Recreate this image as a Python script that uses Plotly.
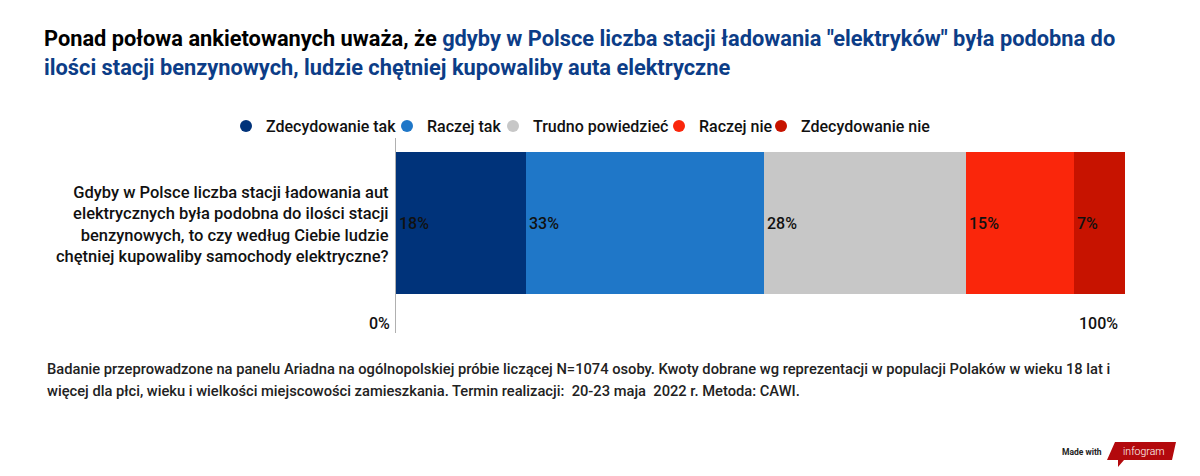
import plotly.graph_objects as go

categories = ["Zdecydowanie tak", "Raczej tak", "Trudno powiedzieć", "Raczej nie", "Zdecydowanie nie"]
values = [18, 33, 28, 15, 7]
colors = ["#00337a", "#1f77c8", "#c7c7c7", "#fa260b", "#c71300"]
question = ("Gdyby w Polsce liczba stacji ładowania aut<br>elektrycznych była podobna do ilości stacji<br>"
            "benzynowych, to czy według Ciebie ludzie<br>chętniej kupowaliby samochody elektryczne?")
tick_vals = [0, 100]
tick_labels = ["0%", "100%"]

# page geometry (browser body has an 8px margin)
PAGE_W, PAGE_H, OFF = 1200, 476, 8
L, R, T, B = 396, 1125, 138, 333
FONT = "Roboto"


def px_x(p):
    return (p - L) / (R - L)


def px_y(p):
    return (B - p) / (B - T)


# legend entry text start positions (page px)
legend_text_x = [263, 424, 530, 696, 798]

fig = go.Figure()
for i, (cat, v, c) in enumerate(zip(categories, values, colors)):
    fig.add_trace(go.Bar(
        x=[v], y=[0], orientation="h", name=cat,
        marker=dict(color=c, line=dict(width=0)),
        text=[f"{v}%"], textposition="inside", insidetextanchor="start",
        textfont=dict(family=FONT, size=16, color="#111", weight=500),
        constraintext="none", width=1, showlegend=False, hoverinfo="skip",
    ))
    fig.add_trace(go.Scatter(
        x=[None], y=[None], mode="markers", name=cat,
        marker=dict(color=c, size=12, symbol="circle"), showlegend=True,
        legend="legend" if i == 0 else f"legend{i + 1}",
    ))

px_per_unit = 142.0
top_units = (152 - T) / px_per_unit + 0.5
total_units = (B - T) / px_per_unit

layout = dict(
    width=PAGE_W - OFF, height=PAGE_H - OFF,
    margin=dict(l=L - OFF, r=PAGE_W - R, t=T - OFF, b=PAGE_H - B, pad=0),
    barmode="stack", bargap=0,
    plot_bgcolor="white", paper_bgcolor="white",
    font=dict(family=FONT, color="#111"),
    xaxis=dict(range=[0, sum(values)], showgrid=False, zeroline=False, showticklabels=False,
               ticks="", showline=False, fixedrange=True),
    yaxis=dict(range=[top_units - total_units, top_units], showgrid=False, zeroline=False,
               showticklabels=False, ticks="", showline=True, linecolor="#b0b0b0", linewidth=1,
               fixedrange=True),
)
for i, tx in enumerate(legend_text_x):
    key = "legend" if i == 0 else f"legend{i + 1}"
    layout[key] = dict(orientation="h", x=px_x(tx - 37), xanchor="left", y=px_y(126), yanchor="middle",
                       font=dict(family=FONT, size=16, color="#111", weight=500),
                       itemwidth=30, bgcolor="rgba(0,0,0,0)", borderwidth=0)
fig.update_layout(**layout)

# x tick labels
for tv, tl in zip(tick_vals, tick_labels):
    fig.add_annotation(x=tv, xref="x", y=px_y(323), yref="paper",
                       text=tl, showarrow=False, xanchor="right", yanchor="middle",
                       xshift=-4 if tv == 0 else 2,
                       font=dict(family=FONT, size=16, color="#111", weight=500))

# question label
fig.add_annotation(x=px_x(391), xref="paper", y=px_y(224), yref="paper",
                   text=question, showarrow=False, xanchor="right", yanchor="middle", align="right",
                   font=dict(family=FONT, size=16.5, color="#111", weight=500))

# title
blue = "#0c3d87"
fig.add_annotation(x=px_x(42), xref="paper", y=px_y(38), yref="paper",
                   text=("Ponad połowa ankietowanych uważa, że "
                         f"<span style='color:{blue}'>gdyby w Polsce liczba stacji ładowania \"elektryków\" była podobna do</span>"),
                   showarrow=False, xanchor="left", yanchor="middle", align="left",
                   font=dict(family=FONT, size=21.8, color="#000", weight=700))
fig.add_annotation(x=px_x(42), xref="paper", y=px_y(68), yref="paper",
                   text="ilości stacji benzynowych, ludzie chętniej kupowaliby auta elektryczne",
                   showarrow=False, xanchor="left", yanchor="middle", align="left",
                   font=dict(family=FONT, size=21.8, color=blue, weight=700))

# footnote
foot1 = ("Badanie przeprowadzone na panelu Ariadna na ogólnopolskiej próbie liczącej N=1074 osoby. "
         "Kwoty dobrane wg reprezentacji w populacji Polaków w wieku 18 lat i")
foot2 = ("więcej dla płci, wieku i wielkości miejscowości zamieszkania. Termin realizacji:  20-23 maja  2022 r. Metoda: CAWI.")
for txt, yy in [(foot1, 369), (foot2, 391)]:
    fig.add_annotation(x=px_x(45), xref="paper", y=px_y(yy), yref="paper",
                       text=txt, showarrow=False, xanchor="left", yanchor="middle", align="left",
                       font=dict(family=FONT, size=14.7, color="#222", weight=500))

# Made with infogram badge
fig.add_annotation(x=px_x(1104), xref="paper", y=px_y(452), yref="paper",
                   text="Made with", showarrow=False, xanchor="right", yanchor="middle",
                   font=dict(family=FONT, size=8.5, color="#222", weight=700))
pts = [(1115, 442), (1176, 442), (1172, 460), (1124, 460), (1118, 467), (1118, 460), (1107, 460)]
path = "M " + " L ".join(f"{px_x(a)},{px_y(b)}" for a, b in pts) + " Z"
fig.add_shape(type="path", xref="paper", yref="paper", path=path,
              fillcolor="#b3090d", line=dict(width=0), layer="above")
fig.add_annotation(x=px_x(1144), xref="paper", y=px_y(451), yref="paper",
                   text="infogram", showarrow=False, xanchor="center", yanchor="middle",
                   font=dict(family=FONT, size=10.5, color="white", weight=300))

fig.write_html("out.html")
